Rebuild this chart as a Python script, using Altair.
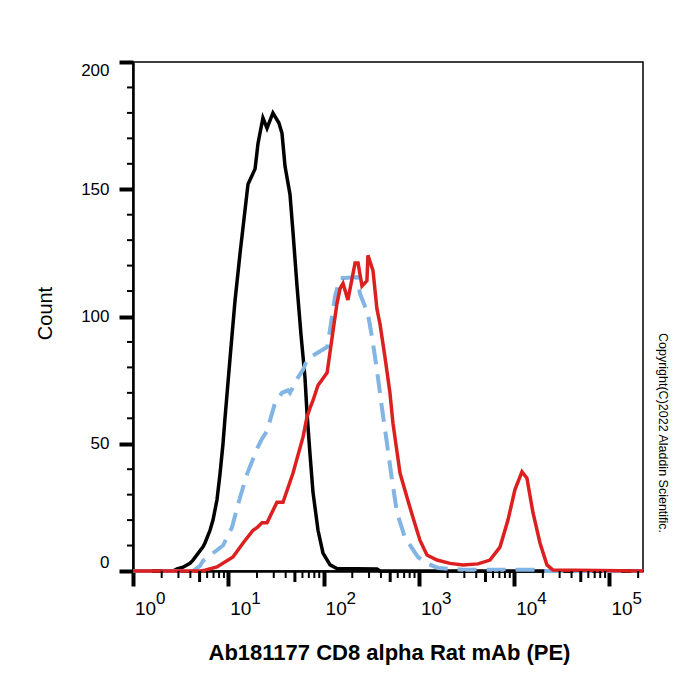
import altair as alt
import pandas as pd

FONT = "Liberation Sans"

# ---- data (fluorescence intensity, count) ----
black_x = [1, 2.63, 2.9, 3.35, 3.96, 4.26, 5.43, 5.69, 6.43, 6.91, 7.61, 8.18, 8.8, 9.23,
           10.4, 11.75, 13.3, 15.0, 16.1, 19.1, 20.5, 23.1, 25.5, 29.4, 34.0, 36.6, 39.4,
           44.4, 47.8, 52.6, 57.9, 63.8, 67.0, 72.0, 77.4, 87.4, 98.6, 117, 138, 363, 391, 224900]
black_y = [0, 0, 0.8, 1.5, 3, 4.3, 9.5, 11, 16, 20, 28, 38, 50, 60,
           83, 106, 125, 142, 152, 158, 168, 178, 174, 180, 176, 172, 159,
           148, 133, 112, 93, 76, 62, 46, 31, 16, 7, 2.4, 1.0, 0.8, 0, 0]

blue_x = [1, 4.26, 5.05, 5.43, 8.8, 10.9, 13.3, 15.7, 20.0, 22.6, 25.5, 30.9, 36.6, 42.3,
          44.4, 53.8, 60.8, 67.0, 72.0, 109, 117, 132, 149, 224, 241, 292, 322, 363, 410,
          463, 522, 589, 715, 979, 1216, 1585, 2904, 18660, 20000, 224900]
blue_y = [0, 0, 2, 4, 10, 17, 29, 38, 48, 52, 55, 66, 70, 71,
          70, 76, 79, 83, 84, 88, 95, 108, 115, 115.5, 109, 101, 92, 79, 64,
          50, 36, 23, 13, 5.5, 3, 1.2, 0.5, 0.5, 0, 0]

red_x = [1, 5.05, 5.69, 7.61, 11.2, 14.3, 18.2, 20.0, 22.6, 25.5, 32.4, 37.5, 47.8, 60.8,
         67.0, 72.0, 77.4, 87.4, 91.6, 109, 122, 138, 149, 160, 180, 214, 230, 253, 285,
         292, 330, 363, 391, 441, 497, 535, 634, 750, 867, 1028, 1216, 1549, 2118, 2904,
         4169, 5572, 7096, 8610, 10190, 12080, 13620, 15740, 18660, 22080, 25530, 224900]
red_y = [0, 0, 0.3, 1.6, 5.5, 11, 16, 17, 19, 19, 27, 27, 38.5, 52.6,
         60.5, 64, 67, 73, 74, 78, 91, 105, 111, 113, 106.5, 121, 121, 112, 114,
         124, 118, 103, 97, 84, 70, 58, 38.5, 29, 21, 12, 6.3, 4.3, 3, 2.4,
         2.8, 4.3, 9.4, 20, 32, 39, 36.5, 23, 11, 2.4, 0.4, 0]

x_major = [1, 10, 100, 1000, 10000, 100000]
x_exp = ["0", "1", "2", "3", "4", "5"]
x_mid = [5, 50, 500, 5000, 50000]
x_minor = [m * d for d in [1, 10, 100, 1000, 10000] for m in [2, 3, 4, 6, 7, 8, 9]] + [200000]
y_major = [0, 50, 100, 150, 200]
y_minor = [10, 20, 30, 40, 60, 70, 80, 90, 110, 120, 130, 140, 160, 170, 180, 190]

x_title = "Ab181177 CD8 alpha Rat mAb (PE)"
y_title = "Count"
copyright_text = "Copyright(C)2022 Aladdin Scientific."

df = pd.concat([
    pd.DataFrame({"x": black_x, "y": black_y, "series": "black"}),
    pd.DataFrame({"x": blue_x, "y": blue_y, "series": "blue"}),
    pd.DataFrame({"x": red_x, "y": red_y, "series": "red"}),
])

xs = alt.Scale(type="log", domain=[1, 224900], nice=False)
ys = alt.Scale(domain=[0, 200], nice=False, zero=True)

xaxis = alt.Axis(values=x_major, labels=False, tickSize=15, tickWidth=4, tickColor="black",
                 domainColor="black", domainWidth=2.5, grid=False,
                 title=x_title, titleFont=FONT, titleFontSize=22, titleFontWeight="bold",
                 titleColor="black", titleX=256, titleY=88, titleAlign="center",
                 titleBaseline="alphabetic")
yaxis = alt.Axis(values=y_major, tickSize=14, tickWidth=4, tickColor="black",
                 labelFont=FONT, labelFontSize=17, labelColor="black", labelPadding=10,
                 labelFlush=True, domainColor="black", domainWidth=2.5, grid=False,
                 title=y_title, titleFont=FONT, titleFontSize=20, titleFontWeight="normal",
                 titleColor="black", titleX=-88, titleY=251, titleAngle=270,
                 titleAlign="center", titleBaseline="middle")

xenc = alt.X("x:Q", scale=xs, axis=xaxis)
yenc = alt.Y("y:Q", scale=ys, axis=yaxis)

base = alt.Chart(df)
black = base.transform_filter(alt.datum.series == "black").mark_line(
    color="black", strokeWidth=3.5).encode(x=xenc, y=yenc)
blue = base.transform_filter(alt.datum.series == "blue").mark_line(
    color="#82B4E4", strokeWidth=4, strokeDash=[19, 10]).encode(x=xenc, y=yenc)
red = base.transform_filter(alt.datum.series == "red").mark_line(
    color="#DC1F1F", strokeWidth=3.5).encode(x=xenc, y=yenc)

xminor = alt.Chart(pd.DataFrame({"x": x_minor})).mark_rule(color="black", strokeWidth=2).encode(
    x=xenc, y=alt.value(509), y2=alt.value(516))
xmid = alt.Chart(pd.DataFrame({"x": x_mid})).mark_rule(color="black", strokeWidth=3).encode(
    x=xenc, y=alt.value(509), y2=alt.value(520))
yminor = alt.Chart(pd.DataFrame({"y": y_minor})).mark_rule(color="black", strokeWidth=2).encode(
    y=yenc, x=alt.value(0), x2=alt.value(-6))

labdf = pd.DataFrame({"x": x_major, "base": ["10"] * len(x_major), "exp": x_exp})
lab_base = alt.Chart(labdf).mark_text(align="left", baseline="alphabetic", font=FONT,
                                      fontSize=19, color="black", dx=2).encode(
    x=xenc, y=alt.value(553), text="base:N")
lab_exp = alt.Chart(labdf).mark_text(align="left", baseline="alphabetic", font=FONT,
                                     fontSize=17, color="black", dx=23).encode(
    x=xenc, y=alt.value(542), text="exp:N")

copy = alt.Chart(pd.DataFrame({"t": [copyright_text]})).mark_text(
    angle=90, font=FONT, fontSize=12.5, color="black", align="center", baseline="middle").encode(
    x=alt.value(530), y=alt.value(371), text="t:N")

chart = alt.layer(black, blue, red, xminor, xmid, yminor, lab_base, lab_exp, copy).properties(
    width=510, height=509,
    padding={"left": 133, "top": 62, "right": 57, "bottom": 129},
    autosize=alt.AutoSizeParams(type="none"),
    background="white",
).configure_view(stroke="black", strokeWidth=1.5)

chart.save("out.html", embed_options={"renderer": "svg", "actions": False})
